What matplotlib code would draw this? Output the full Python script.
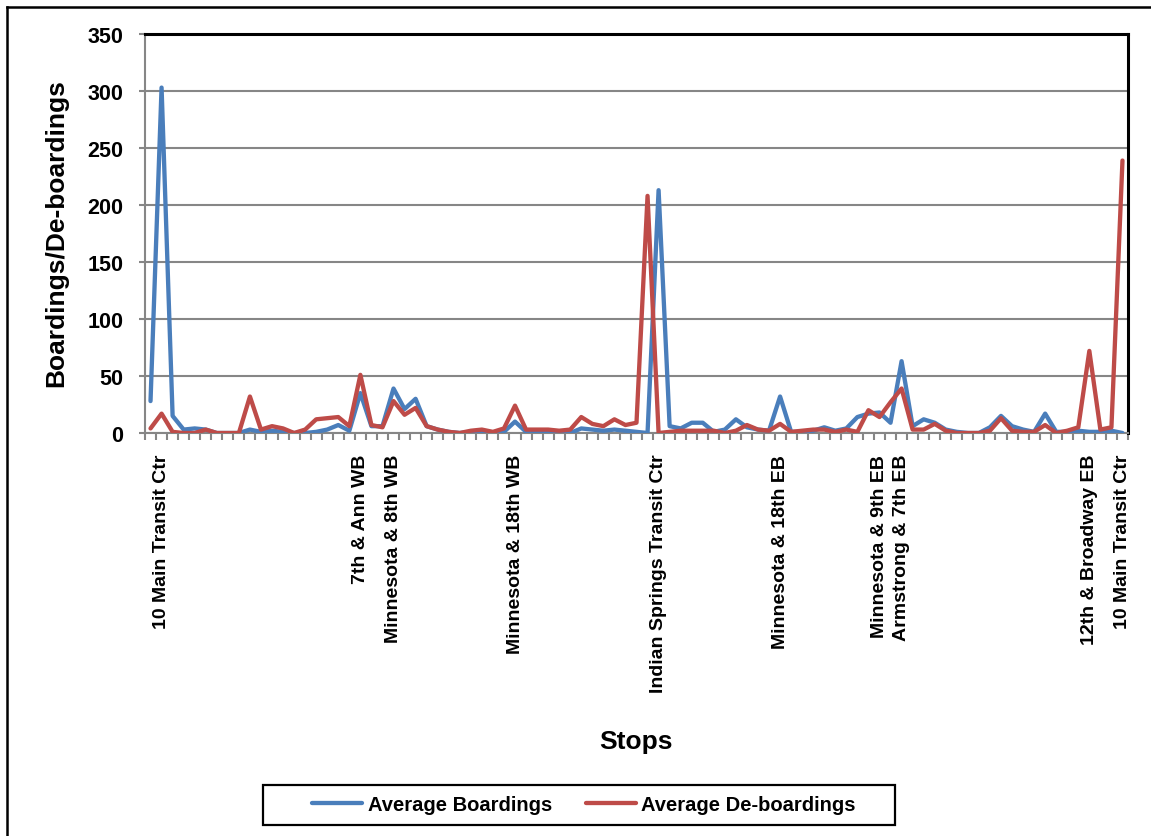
import matplotlib
matplotlib.use("Agg")
import matplotlib.pyplot as plt
from matplotlib.lines import Line2D
from matplotlib.patches import Rectangle

# ---------------- data ----------------
boardings = [28, 303, 15, 3, 4, 3, 0, 0, 0, 3,
             1, 2, 1, 0, 0, 1, 3, 7, 2, 35,
             6, 6, 39, 21, 30, 6, 3, 1, 0, 1,
             1, 0, 1, 10, 1, 1, 1, 1, 0, 4,
             3, 2, 3, 2, 1, 0, 213, 6, 4, 9,
             9, 1, 3, 12, 5, 3, 2, 32, 1, 1,
             2, 5, 2, 4, 14, 17, 18, 9, 63, 6,
             12, 9, 3, 1, 0, 0, 5, 15, 6, 3,
             1, 17, 1, 1, 2, 1, 1, 2, 0]

deboardings = [4, 17, 1, 0, 0, 3, 0, 0, 0, 32,
               3, 6, 4, 0, 3, 12, 13, 14, 6, 51,
               7, 5, 28, 16, 22, 6, 3, 1, 0, 2,
               3, 1, 4, 24, 3, 3, 3, 2, 3, 14,
               8, 6, 12, 7, 9, 208, 0, 1, 2, 2,
               2, 2, 0, 2, 7, 3, 2, 8, 1, 2,
               3, 3, 1, 3, 1, 20, 14, 27, 39, 3,
               3, 8, 2, 0, 0, 0, 2, 13, 2, 1,
               1, 7, 0, 2, 5, 72, 3, 5, 239]

named_stop_index = [1, 19, 22, 33, 46, 57, 66, 68, 85, 88]
named_stop_text = ["10 Main Transit Ctr", "7th & Ann WB", "Minnesota & 8th WB",
                   "Minnesota & 18th WB", "Indian Springs Transit Ctr",
                   "Minnesota & 18th EB", "Minnesota & 9th EB", "Armstrong & 7th EB",
                   "12th & Broadway EB", "10 Main Transit Ctr"]

y_ticks = [0, 50, 100, 150, 200, 250, 300, 350]
series_names = ["Average Boardings", "Average De-boardings"]

# ---------------- figure ----------------
W, H = 1151, 837
fig = plt.figure(figsize=(W / 100, H / 100), dpi=100)
plt.rcParams['font.family'] = ['Liberation Sans', 'DejaVu Sans']

def fx(px):
    return px / W

def fy(py):
    return 1 - py / H

ax = fig.add_axes([fx(145), fy(434), fx(1128) - fx(145), fy(35) - fy(434)])

n = len(boardings)
x = list(range(n))
blue = '#4a7ebb'
red = '#be4b48'
ax.plot(x, boardings, color=blue, lw=3.1, label=series_names[0],
        solid_joinstyle='round', solid_capstyle='round', zorder=3)
ax.plot(x, deboardings, color=red, lw=3.1, label=series_names[1],
        solid_joinstyle='round', solid_capstyle='round', zorder=4)

ax.set_xlim(-0.5, n - 0.5)
ax.set_ylim(0, 350)

ax.set_yticks(y_ticks)
ax.set_yticklabels([str(v) for v in y_ticks], fontsize=15.5, fontweight='bold')
ax.yaxis.grid(True, color='#868686', lw=1.5, zorder=1)
ax.set_axisbelow(True)

# category boundaries as minor ticks, named stops as major labels
ax.set_xticks([i - 0.5 for i in range(n + 1)], minor=True)
ax.set_xticks(named_stop_index)
ax.set_xticklabels(named_stop_text, rotation=90, fontsize=14, fontweight='bold')
ax.tick_params(axis='x', which='major', length=0, pad=15)
ax.tick_params(axis='x', which='minor', length=5, width=1.5, color='#868686', direction='out')
ax.tick_params(axis='y', length=4.5, width=1.5, color='#868686', direction='out', pad=11)

for s in ['left', 'bottom']:
    ax.spines[s].set_color('#868686')
    ax.spines[s].set_linewidth(1.5)
for s in ['top', 'right']:
    ax.spines[s].set_color('black')
    ax.spines[s].set_linewidth(2.2)

fig.text(fx(56), fy(233), "Boardings/De-boardings", rotation=90, fontsize=19,
         fontweight='bold', ha='center', va='center')

fig.text(fx(636), fy(742), "Stops", fontsize=19, fontweight='bold', ha='center', va='center')

# legend
fig.legend(loc='center', bbox_to_anchor=(fx(584), fy(806)), ncol=2, frameon=False,
           prop={'size': 14.5, 'weight': 'bold'}, handlelength=2.5, handletextpad=0.25,
           columnspacing=1.7)
fig.add_artist(Rectangle((fx(263), fy(826)), fx(895) - fx(263), fy(786) - fy(826),
                         transform=fig.transFigure, fill=False, ec='black', lw=1.6))

# outer chart frame (partly visible)
fig.add_artist(Line2D([fx(7), fx(7)], [0, fy(8)], transform=fig.transFigure, color='black', lw=1.8))
fig.add_artist(Line2D([fx(7), 1], [fy(8), fy(8)], transform=fig.transFigure, color='black', lw=1.8))

fig.savefig("out.png", dpi=100)
